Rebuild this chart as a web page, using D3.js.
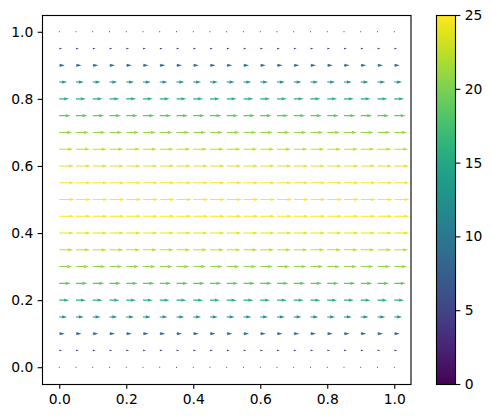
<!DOCTYPE html>
<html><head><meta charset="utf-8">
<script src="https://cdn.jsdelivr.net/npm/d3@7"></script>
<style>body{margin:0;background:#fff}svg{display:block}text{font-family:"DejaVu Sans",sans-serif;font-size:13.89px;fill:#000}</style>
</head><body><svg id="c" width="492" height="418"></svg>
<script>
// grid positions (x and y share the same grid)
const xs = [0,0.05,0.1,0.15,0.2,0.25,0.3,0.35,0.4,0.45,0.5,0.55,0.6,0.65,0.7,0.75,0.8,0.85,0.9,0.95,1.0];
const ys = [0,0.05,0.1,0.15,0.2,0.25,0.3,0.35,0.4,0.45,0.5,0.55,0.6,0.65,0.7,0.75,0.8,0.85,0.9,0.95,1.0];
// horizontal velocity per row (same for every column), v = 0
const uRow = [0,4.75,9,12.75,16,18.75,21,22.75,24,24.75,25,24.75,24,22.75,21,18.75,16,12.75,9,4.75,0];
const xTicks = [0,0.2,0.4,0.6,0.8,1.0];
const yTicks = [0,0.2,0.4,0.6,0.8,1.0];
const cbTicks = [0,5,10,15,20,25];

const svg = d3.select("#c");
const L=42.5, R=411, T=15, B=384;
const LW=1.11, TL=4.86;
const x = d3.scaleLinear().domain([-0.05,1.05]).range([L,R]);
const y = d3.scaleLinear().domain([-0.05,1.05]).range([B,T]);
const color = d3.scaleSequential(d3.interpolateViridis).domain([0,25]);

// quiver (matplotlib-like arrow geometry)
const axW = R-L;
const vecs = [];
ys.forEach((yy,i)=>xs.forEach(xx=>vecs.push({x:xx,y:yy,u:uRow[i]})));
const N = vecs.length;
const sn = Math.max(10, Math.sqrt(N));
const amean = d3.mean(vecs, d=>d.u);
const scale = 1.8*amean*sn;       // units per axes width
const wpx = 0.06/sn*axW;          // shaft width in px
const headwidth=3, headlength=5, headaxis=4.5, minshaft=1, minlength=1;
function arrowPts(u){
  const len = u/scale*axW/wpx; // in width units
  const minsh = minshaft*headlength;
  let X, Y;
  if (len < minlength){
    X=[];Y=[];
    for(let k=0;k<8;k++){const th=k*Math.PI/3;X.push(Math.cos(th)*minlength*0.5);Y.push(Math.sin(th)*minlength*0.5);}
  } else if (len < minsh){
    const s = len/minsh;
    const x0=[0,minsh-headaxis,minsh-headlength,minsh], y0=[0.5,0.5,0.5*headwidth,0];
    const ii=[0,1,2,3,2,1,0];
    X=ii.map(k=>x0[k]*s); Y=ii.map((k,j)=>(j>=4?-1:1)*y0[k]*s);
  } else {
    const x1=[0,len-headaxis,len-headlength,len], y1=[0.5,0.5,0.5*headwidth,0];
    const ii=[0,1,2,3,2,1,0];
    X=ii.map(k=>x1[k]); Y=ii.map((k,j)=>(j>=4?-1:1)*y1[k]);
  }
  return X.map((v,k)=>[v*wpx, -Y[k]*wpx]);
}
svg.append("g").selectAll("path").data(vecs).join("path")
  .attr("transform",d=>`translate(${x(d.x)},${y(d.y)})`)
  .attr("d",d=>"M"+arrowPts(d.u).map(p=>p.join(",")).join("L")+"Z")
  .attr("fill",d=>color(d.u));

// axes
const xAxis = d3.axisBottom(x).tickValues(xTicks).tickFormat(d3.format(".1f")).tickSize(TL).tickPadding(TL-0.5);
const yAxis = d3.axisLeft(y).tickValues(yTicks).tickFormat(d3.format(".1f")).tickSize(TL).tickPadding(TL-0.5);
const gx = svg.append("g").attr("transform",`translate(0,${B})`).call(xAxis);
const gy = svg.append("g").attr("transform",`translate(${L},0)`).call(yAxis);
[gx,gy].forEach(g=>{g.select(".domain").remove();g.selectAll("line").attr("stroke","#000").attr("stroke-width",LW);g.selectAll("text").attr("font-size",null).attr("font-family",null);});
gx.selectAll("text").attr("dy","0.75em");
svg.append("rect").attr("x",L).attr("y",T+0.5).attr("width",R-L).attr("height",B-T).attr("fill","none").attr("stroke","#000").attr("stroke-width",LW);

// colorbar
const cL=436.5, cR=455.5;
const cy = d3.scaleLinear().domain([0,25]).range([B,T]);
const grad = svg.append("defs").append("linearGradient").attr("id","vir").attr("x1",0).attr("y1",1).attr("x2",0).attr("y2",0);
d3.range(0,1.0001,0.05).forEach(t=>grad.append("stop").attr("offset",t).attr("stop-color",d3.interpolateViridis(t)));
svg.append("rect").attr("x",cL).attr("y",T+0.5).attr("width",cR-cL).attr("height",B-T).attr("fill","url(#vir)");
const cAxis = d3.axisRight(cy).tickValues(cbTicks).tickSize(TL).tickPadding(TL-0.5);
const gc = svg.append("g").attr("transform",`translate(${cR},0)`).call(cAxis);
gc.select(".domain").remove();
gc.selectAll("line").attr("stroke","#000").attr("stroke-width",LW);
gc.selectAll("text").attr("font-size",null).attr("font-family",null);
svg.append("rect").attr("x",cL).attr("y",T+0.5).attr("width",cR-cL).attr("height",B-T).attr("fill","none").attr("stroke","#000").attr("stroke-width",LW);
</script></body></html>
